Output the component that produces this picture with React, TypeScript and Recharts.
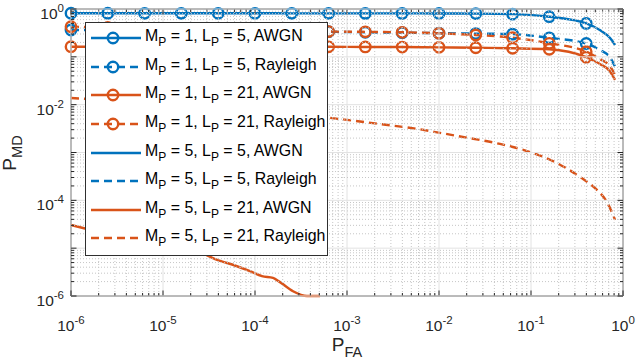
import React from "react";
import { LineChart, Line, XAxis, YAxis, ReferenceArea } from "recharts";

// P_FA grid of the M_P = 1 curves (markers on the first 15 points)
const pfaM1 = [
  1e-6, 2.51e-6, 6.31e-6, 1.58e-5, 3.98e-5, 1e-4, 2.51e-4, 6.31e-4, 1.58e-3,
  3.98e-3, 1e-2, 2.51e-2, 6.31e-2, 0.158, 0.398, 0.56, 0.72, 0.82,
];
const pmdM1L5Awgn = [
  0.815, 0.815, 0.814, 0.814, 0.813, 0.813, 0.812, 0.812, 0.811, 0.81, 0.808,
  0.802, 0.78, 0.69, 0.5, 0.364, 0.25, 0.177,
];
const pmdM1L5Rayleigh = [
  0.364, 0.36, 0.356, 0.352, 0.348, 0.344, 0.34, 0.335, 0.326, 0.32, 0.312,
  0.306, 0.298, 0.25, 0.19, 0.139, 0.099, 0.062,
];
const pmdM1L21Awgn = [
  0.163, 0.163, 0.163, 0.163, 0.163, 0.162, 0.162, 0.162, 0.161, 0.16, 0.158,
  0.155, 0.151, 0.144, 0.098, 0.071, 0.05, 0.033,
];
const pmdM1L21Rayleigh = [
  0.426, 0.41, 0.395, 0.382, 0.37, 0.358, 0.347, 0.338, 0.333, 0.326, 0.31,
  0.286, 0.251, 0.192, 0.128, 0.09, 0.064, 0.042,
];

// M_P = 5 curves (M_P = 5, L_P = 5 stay below 1e-6 everywhere)
const pfaM5L5Awgn: number[] = [];
const pmdM5L5Awgn: number[] = [];
const pfaM5L5Rayleigh: number[] = [];
const pmdM5L5Rayleigh: number[] = [];

const pfaM5L21Awgn = [
  1e-6, 1.35e-6, 2.52e-5, 4.17e-5, 4.97e-5, 8.83e-5, 1.19e-4, 1.57e-4,
  1.87e-4, 2.59e-4, 3.67e-4, 5.1e-4,
];
const pmdM5L21Awgn = [
  3.05e-5, 2.64e-5, 8.3e-6, 5.4e-6, 4.9e-6, 3.3e-6, 2.6e-6, 2.4e-6, 1.95e-6,
  1.26e-6, 1.0e-6, 1.0e-6,
];

const pfaM5L21Rayleigh = [
  1e-6, 8.4e-4, 2.29e-3, 6.2e-3, 1.03e-2, 2.01e-2, 4.6e-2, 9.06e-2, 0.192,
  0.341, 0.521, 0.67, 0.82,
];
const pmdM5L21Rayleigh = [
  1.38e-2, 5.0e-3, 3.94e-3, 3.05e-3, 2.57e-3, 2.04e-3, 1.51e-3, 1.07e-3,
  6.0e-4, 3.08e-4, 1.65e-4, 9.2e-5, 3.9e-5,
];

// axis ticks
const decades = [1e-6, 1e-5, 1e-4, 1e-3, 1e-2, 1e-1, 1];
const decadeExponents = [-6, -5, -4, -3, -2, -1, 0];
const minorSteps = [2, 3, 4, 5, 6, 7, 8, 9];

const BLUE = "#0072BD";
const ORANGE = "#D95319";
const AXIS = "#262626";
const FONT = '"Liberation Sans", Arial, Helvetica, sans-serif';
const MARKER_COUNT = 15;
const LW = 2.4;

const PLOT = { left: 71, right: 623, top: 9, bottom: 296 };

const logTicks = decades.flatMap((d, i) =>
  i < decades.length - 1 ? [d, ...minorSteps.map((s) => s * d)] : [d]
);

const zip = (xs: number[], ys: number[]) =>
  xs.map((x, i) => ({ x, y: ys[i] }));

const series = [
  { name: ["1", "5", "AWGN"], data: zip(pfaM1, pmdM1L5Awgn), color: BLUE, dashed: false, marker: true },
  { name: ["1", "5", "Rayleigh"], data: zip(pfaM1, pmdM1L5Rayleigh), color: BLUE, dashed: true, marker: true },
  { name: ["1", "21", "AWGN"], data: zip(pfaM1, pmdM1L21Awgn), color: ORANGE, dashed: false, marker: true },
  { name: ["1", "21", "Rayleigh"], data: zip(pfaM1, pmdM1L21Rayleigh), color: ORANGE, dashed: true, marker: true },
  { name: ["5", "5", "AWGN"], data: zip(pfaM5L5Awgn, pmdM5L5Awgn), color: BLUE, dashed: false, marker: false },
  { name: ["5", "5", "Rayleigh"], data: zip(pfaM5L5Rayleigh, pmdM5L5Rayleigh), color: BLUE, dashed: true, marker: false },
  { name: ["5", "21", "AWGN"], data: zip(pfaM5L21Awgn, pmdM5L21Awgn), color: ORANGE, dashed: false, marker: false },
  { name: ["5", "21", "Rayleigh"], data: zip(pfaM5L21Rayleigh, pmdM5L21Rayleigh), color: ORANGE, dashed: true, marker: false },
];

const DASH = "8 5";

const exponentOf = (v: number) => {
  const i = decades.findIndex((d) => Math.abs(d - v) < d * 1e-6);
  return i >= 0 ? decadeExponents[i] : null;
};

const XTick = (props: any) => {
  const { x, payload } = props;
  const exp = exponentOf(payload.value);
  const major = exp !== null;
  const len = major ? 5.5 : 3;
  return (
    <g>
      <line
        x1={x} x2={x} y1={PLOT.top} y2={PLOT.bottom}
        stroke={major ? "#e2e2e2" : "#c6c6c6"}
        strokeDasharray={major ? undefined : "1 2"}
      />
      <line x1={x} x2={x} y1={PLOT.bottom} y2={PLOT.bottom - len} stroke={AXIS} />
      <line x1={x} x2={x} y1={PLOT.top} y2={PLOT.top + len} stroke={AXIS} />
      {major && (
        <text x={x} y={331} textAnchor="middle" fontSize={15.5} fill={AXIS} fontFamily={FONT}>
          10<tspan fontSize={11.5} dy={-7}>{exp}</tspan>
        </text>
      )}
    </g>
  );
};

const YTick = (props: any) => {
  const { y, payload } = props;
  const exp = exponentOf(payload.value);
  const major = exp !== null;
  const len = major ? 5.5 : 3;
  const showLabel = major && Math.abs(exp) % 2 === 0;
  return (
    <g>
      <line
        x1={PLOT.left} x2={PLOT.right} y1={y} y2={y}
        stroke={major ? "#e2e2e2" : "#c6c6c6"}
        strokeDasharray={major ? undefined : "1 2"}
      />
      <line x1={PLOT.left} x2={PLOT.left + len} y1={y} y2={y} stroke={AXIS} />
      <line x1={PLOT.right} x2={PLOT.right - len} y1={y} y2={y} stroke={AXIS} />
      {showLabel && (
        <text x={64} y={y + 10} textAnchor="end" fontSize={15.5} fill={AXIS} fontFamily={FONT}>
          10<tspan fontSize={11.5} dy={-7}>{exp}</tspan>
        </text>
      )}
    </g>
  );
};

const markerDot = (color: string) => (p: any) => {
  const { cx, cy, index } = p;
  if (index >= MARKER_COUNT || cx == null || cy == null) return <g key={`m-${index}`} />;
  return (
    <circle key={`m-${index}`} cx={cx} cy={cy} r={5.2} fill="none" stroke={color} strokeWidth={LW} />
  );
};

const subStyle = { fontSize: 12, verticalAlign: -5 };

const LegendBox = () => (
  <div
    style={{
      position: "absolute",
      left: 85,
      top: 22,
      width: 243,
      height: 234,
      boxSizing: "border-box",
      border: "1px solid #2f2f2f",
      background: "#fff",
      fontFamily: FONT,
      fontSize: 15.9,
      color: "#000",
      paddingTop: 1,
    }}
  >
    {series.map((s, i) => (
      <div key={i} style={{ height: 28.6, display: "flex", alignItems: "center" }}>
        <svg width={56} height={28} style={{ display: "block", flex: "none" }}>
          <line
            x1={5} x2={55} y1={14} y2={14}
            stroke={s.color} strokeWidth={LW}
            strokeDasharray={s.dashed ? DASH : undefined}
          />
          {s.marker && <circle cx={27} cy={14} r={5.2} fill="none" stroke={s.color} strokeWidth={LW} />}
        </svg>
        <span style={{ marginLeft: 3, whiteSpace: "nowrap", lineHeight: 1 }}>
          M<sub style={subStyle}>P</sub> = {s.name[0]}, L
          <sub style={subStyle}>P</sub> = {s.name[1]}, {s.name[2]}
        </span>
      </div>
    ))}
  </div>
);

export default function App() {
  return (
    <div style={{ position: "absolute", left: 0, top: 0, width: 638, height: 360, background: "#fff" }}>
      <LineChart width={638} height={360} margin={{ top: 9, right: 15, bottom: 0, left: 0 }}>
        <XAxis
          type="number"
          dataKey="x"
          scale="log"
          domain={[1e-6, 1]}
          ticks={logTicks}
          interval={0}
          height={64}
          tick={<XTick />}
          tickLine={false}
          axisLine={false}
          label={() => (
            <text x={347} y={351} textAnchor="middle" fontSize={19} fill={AXIS} fontFamily={FONT}>
              P<tspan fontSize={14.5} dy={6}>FA</tspan>
            </text>
          )}
        />
        <YAxis
          type="number"
          dataKey="y"
          scale="log"
          domain={[1e-6, 1]}
          ticks={logTicks}
          interval={0}
          width={71}
          tick={<YTick />}
          tickLine={false}
          axisLine={false}
          label={() => (
            <text
              transform="rotate(-90)"
              x={-153}
              y={16}
              textAnchor="middle"
              fontSize={19}
              fill={AXIS}
              fontFamily={FONT}
            >
              P<tspan fontSize={14.5} dy={6}>MD</tspan>
            </text>
          )}
        />
        <ReferenceArea x1={1e-6} x2={1} y1={1e-6} y2={1} fill="none" stroke={AXIS} strokeWidth={1} />
        {series.map((s, i) => (
          <Line
            key={i}
            data={s.data}
            dataKey="y"
            type="monotone"
            stroke={s.color}
            strokeWidth={LW}
            strokeDasharray={s.dashed ? DASH : undefined}
            dot={s.marker ? markerDot(s.color) : false}
            activeDot={false}
            isAnimationActive={false}
          />
        ))}
      </LineChart>
      <LegendBox />
    </div>
  );
}
